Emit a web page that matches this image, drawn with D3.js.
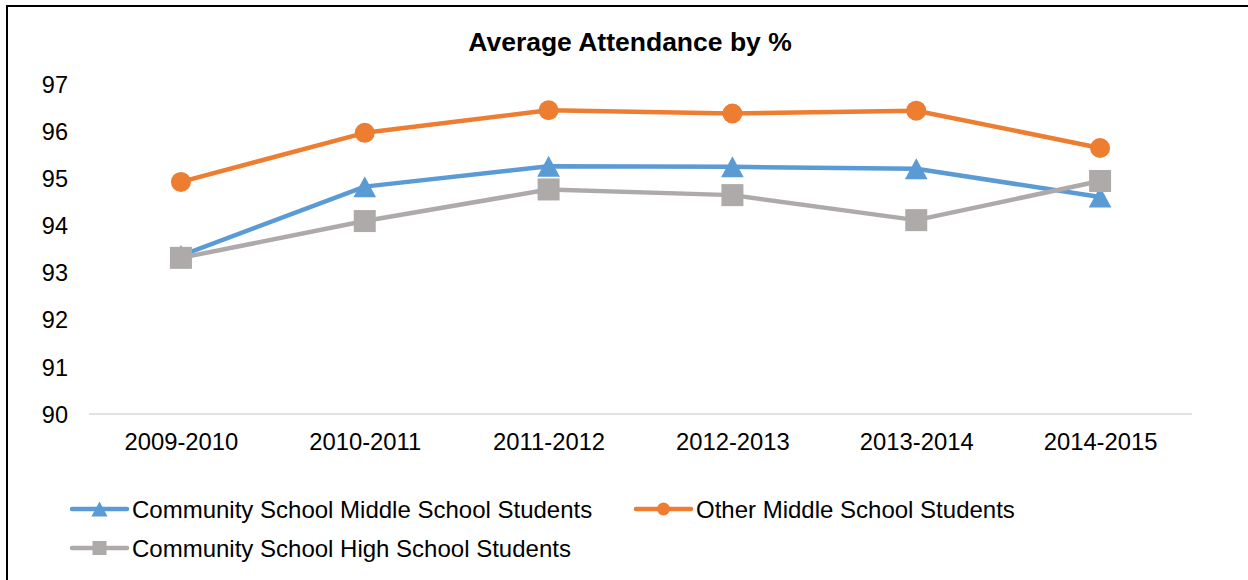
<!DOCTYPE html>
<html>
<head>
<meta charset="utf-8">
<script src="https://cdn.jsdelivr.net/npm/d3@7/dist/d3.min.js"></script>
<style>
  html, body { margin: 0; padding: 0; background: #fff; }
  svg { display: block; }
  text { font-family: "Liberation Sans", Arial, sans-serif; fill: #000; }
</style>
</head>
<body>
<svg id="chart" width="1248" height="580"></svg>
<script>
// School years on the category axis
const years = ["2009-2010", "2010-2011", "2011-2012", "2012-2013", "2013-2014", "2014-2015"];

// Average attendance (%) per group
const communityMiddle = [93.36, 94.82, 95.25, 95.24, 95.20, 94.60];
const otherMiddle     = [94.92, 95.96, 96.44, 96.37, 96.43, 95.64];
const communityHigh   = [93.31, 94.09, 94.76, 94.64, 94.11, 94.94];

const seriesNames = [
  "Community School Middle School Students",
  "Other Middle School Students",
  "Community School High School Students"
];

const yTicks = [90, 91, 92, 93, 94, 95, 96, 97];

const series = [
  { name: seriesNames[0], values: communityMiddle, color: "#5B9BD5", shape: "triangle" },
  { name: seriesNames[1], values: otherMiddle,     color: "#ED7D31", shape: "circle" },
  { name: seriesNames[2], values: communityHigh,   color: "#AEAAAA", shape: "square" }
];

const svg = d3.select("#chart");

// Outer frame (top and left edges visible)
svg.append("rect")
  .attr("x", 7).attr("y", 6)
  .attr("width", 1400).attr("height", 700)
  .attr("fill", "none").attr("stroke", "#000").attr("stroke-width", 2);

const x = d3.scalePoint().domain(years).range([89, 1192]).padding(0.5);
const y = d3.scaleLinear().domain([90, 97]).range([414, 83.8]);

// Title
svg.append("text")
  .attr("x", 630).attr("y", 51)
  .attr("text-anchor", "middle")
  .style("font-size", "26.5px").style("font-weight", "bold")
  .text("Average Attendance by %");

// Y axis labels (no axis line)
const yAxis = d3.axisLeft(y).tickValues(yTicks).tickSize(0).tickPadding(0).tickFormat(d3.format("d"));
const gy = svg.append("g").attr("transform", "translate(68,0)").call(yAxis);
gy.select(".domain").remove();
gy.selectAll("text")
  .style("font-size", "23.5px")
  .style("font-family", "'Liberation Sans', Arial, sans-serif")
  .attr("fill", "#000")
  .attr("dy", "0.35em");

// X axis baseline and category labels
const xAxis = d3.axisBottom(x).tickSize(0).tickPadding(0);
const gx = svg.append("g").attr("transform", "translate(0,414)").call(xAxis);
gx.select(".domain")
  .attr("d", "M89,0H1192")
  .attr("stroke", "#D9D9D9").attr("stroke-width", 1.5);
gx.selectAll("text")
  .style("font-size", "23.8px")
  .style("font-family", "'Liberation Sans', Arial, sans-serif")
  .attr("fill", "#000")
  .attr("y", 36).attr("dy", 0);

function drawMarker(g, shape, cx, cy, size, color) {
  if (shape === "circle") {
    g.append("circle").attr("cx", cx).attr("cy", cy).attr("r", size / 2).attr("fill", color);
  } else if (shape === "square") {
    g.append("rect").attr("x", cx - size / 2).attr("y", cy - size / 2)
      .attr("width", size).attr("height", size).attr("fill", color);
  } else {
    const w = size * 1.08, h = size;
    g.append("path")
      .attr("d", `M${cx},${cy - h / 2}L${cx + w / 2},${cy + h / 2}L${cx - w / 2},${cy + h / 2}Z`)
      .attr("fill", color);
  }
}

const line = d3.line().x((d, i) => x(years[i])).y(d => y(d));
const markerSize = { circle: 20, square: 22, triangle: 21 };
const legendMarkerSize = { circle: 13, square: 14, triangle: 15 };

series.forEach(s => {
  const g = svg.append("g");
  g.append("path")
    .datum(s.values)
    .attr("d", line)
    .attr("fill", "none")
    .attr("stroke", s.color)
    .attr("stroke-width", 4.5)
    .attr("stroke-linejoin", "round")
    .attr("stroke-linecap", "round");
  s.values.forEach((v, i) => drawMarker(g, s.shape, x(years[i]), y(v), markerSize[s.shape], s.color));
});

// Legend
const legendPos = [
  { x: 72, y: 509 },
  { x: 636, y: 509 },
  { x: 72, y: 548 }
];
series.forEach((s, i) => {
  const p = legendPos[i];
  const g = svg.append("g");
  g.append("line")
    .attr("x1", p.x).attr("x2", p.x + 55)
    .attr("y1", p.y).attr("y2", p.y)
    .attr("stroke", s.color).attr("stroke-width", 4.5).attr("stroke-linecap", "round");
  drawMarker(g, s.shape, p.x + 27.5, p.y, legendMarkerSize[s.shape], s.color);
  g.append("text")
    .attr("x", p.x + 60).attr("y", p.y + 8.5)
    .style("font-size", "24px")
    .text(s.name);
});
</script>
</body>
</html>
